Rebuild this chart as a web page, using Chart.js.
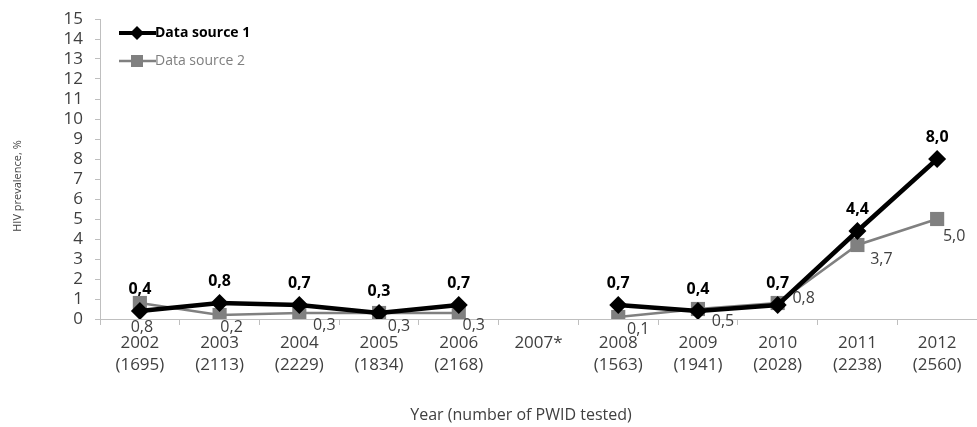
<!DOCTYPE html>
<html>
<head>
<meta charset="utf-8">
<script src="https://cdn.jsdelivr.net/npm/chart.js@4/dist/chart.umd.min.js"></script>
<style>
html,body{margin:0;padding:0;background:#fff;}
#wrap{width:977px;height:427px;position:relative;}
</style>
</head>
<body>
<div id="wrap"><canvas id="c" width="977" height="427"></canvas></div>
<script>
const years = ["2002","2003","2004","2005","2006","2007*","2008","2009","2010","2011","2012"];
const tested = ["(1695)","(2113)","(2229)","(1834)","(2168)","","(1563)","(1941)","(2028)","(2238)","(2560)"];
const source1 = [0.4,0.8,0.7,0.3,0.7,null,0.7,0.4,0.7,4.4,8.0];
const source2 = [0.8,0.2,0.3,0.3,0.3,null,0.1,0.5,0.8,3.7,5.0];
const seriesNames = ["Data source 1","Data source 2"];
const yTitle = "HIV prevalence, %";
const xTitle = "Year (number of PWID tested)";

// label placement (style only): offsets of the Data source 2 value labels
const s2LabelDx = [2,12,25,20,15,0,20,25,26,24,17];
const s2LabelDy = [24,12,12,13,12,0,12,12,-5,14,17];

const labels = years.map((y,i)=> [y, tested[i]]);
const fmt = v => v.toFixed(1).replace('.', ',');
const FONT = "'Open Sans', 'Liberation Sans', sans-serif";

const valueLabels = {
  id:'valueLabels',
  afterDatasetsDraw(chart){
    const ctx = chart.ctx;
    ctx.save();
    const m1 = chart.getDatasetMeta(0), m2 = chart.getDatasetMeta(1);
    ctx.textAlign='center'; ctx.textBaseline='middle';
    m2.data.forEach((p,i)=>{
      const v = source2[i]; if(v==null) return;
      ctx.font = "16px " + FONT; ctx.fillStyle='#404040';
      ctx.fillText(fmt(v), p.x+s2LabelDx[i], p.y+s2LabelDy[i]);
    });
    m1.data.forEach((p,i)=>{
      const v = source1[i]; if(v==null) return;
      ctx.font = "bold 16px " + FONT; ctx.fillStyle='#000';
      ctx.fillText(fmt(v), p.x, p.y-22);
    });
    ctx.restore();
  }
};

const extras = {
  id:'extras',
  afterDraw(chart){
    const ctx = chart.ctx;
    const items = [
      {y:33, color:'#000', lw:4, diamond:true, bold:true, text:seriesNames[0], tc:'#000'},
      {y:61, color:'#808080', lw:2.5, diamond:false, bold:false, text:seriesNames[1], tc:'#7f7f7f'}
    ];
    ctx.save();
    items.forEach(it=>{
      ctx.strokeStyle=it.color; ctx.lineWidth=it.lw;
      ctx.beginPath(); ctx.moveTo(119,it.y); ctx.lineTo(156,it.y); ctx.stroke();
      ctx.fillStyle=it.color;
      if(it.diamond){ctx.beginPath();ctx.moveTo(137,it.y-7);ctx.lineTo(144,it.y);ctx.lineTo(137,it.y+7);ctx.lineTo(130,it.y);ctx.closePath();ctx.fill();}
      else {ctx.fillRect(131,it.y-6,12,12);}
      ctx.font=(it.bold?'bold ':'')+'14px '+FONT; ctx.fillStyle=it.tc;
      ctx.textAlign='left'; ctx.textBaseline='middle';
      ctx.fillText(it.text,155,it.y);
    });
    // axis titles
    ctx.fillStyle='#404040';
    ctx.font='16px '+FONT; ctx.textAlign='center'; ctx.textBaseline='middle';
    ctx.fillText(xTitle,521,415);
    ctx.save();
    ctx.translate(18,186); ctx.rotate(-Math.PI/2);
    ctx.font='11px '+FONT;
    ctx.fillText(yTitle,0,0);
    ctx.restore();
    ctx.restore();
  }
};

new Chart(document.getElementById('c'),{
  type:'line',
  data:{
    labels,
    datasets:[
      {label:seriesNames[0],data:source1,borderColor:'#000',backgroundColor:'#000',borderWidth:4.5,
       pointStyle:'rectRot',pointRadius:9,pointHoverRadius:9,pointBorderWidth:0,pointBackgroundColor:'#000',pointBorderColor:'#000',spanGaps:false,tension:0},
      {label:seriesNames[1],data:source2,borderColor:'#808080',backgroundColor:'#808080',borderWidth:2.5,
       pointStyle:'rect',pointRadius:10,pointHoverRadius:10,pointBorderWidth:0,pointBackgroundColor:'#808080',pointBorderColor:'#808080',spanGaps:false,tension:0}
    ]
  },
  options:{
    responsive:false,animation:false,devicePixelRatio:1,
    layout:{autoPadding:false,padding:{top:19,right:0,left:0,bottom:0}},
    plugins:{legend:{display:false},tooltip:{enabled:false}},
    scales:{
      x:{
        offset:true,
        grid:{offset:true,drawOnChartArea:false,color:'#bfbfbf',tickLength:6,tickColor:'#bfbfbf'},
        border:{color:'#bfbfbf',width:1},
        ticks:{color:'#404040',font:{size:17,family:FONT,lineHeight:1.3},maxRotation:0,autoSkip:false,padding:7},
        afterFit(s){s.height=108; s.paddingLeft=0; s.paddingRight=0;}
      },
      y:{
        min:0,max:15,
        ticks:{stepSize:1,autoSkip:false,color:'#404040',font:{size:17,family:FONT},padding:12},
        grid:{drawOnChartArea:false,color:'#bfbfbf',tickLength:5,tickColor:'#bfbfbf'},
        border:{color:'#bfbfbf',width:1},
        afterFit(s){s.width=100; s.paddingTop=0; s.paddingBottom=0;}
      }
    }
  },
  plugins:[valueLabels,extras]
});
</script>
</body>
</html>
